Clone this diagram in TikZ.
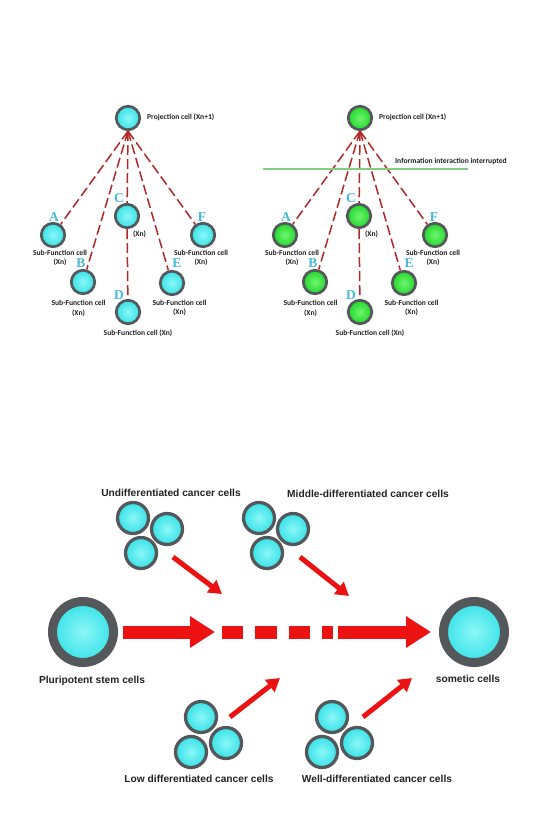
\documentclass[tikz,border=0pt]{standalone}
\usepackage{fontspec}
\setsansfont{Liberation Sans}
\newfontfamily\calfont{Carlito}
\newfontfamily\letterfont{Liberation Serif}
\usetikzlibrary{arrows.meta}
\definecolor{cellhi}{RGB}{140,247,247}
\definecolor{celllo}{RGB}{55,226,232}
\definecolor{greenhi}{RGB}{110,245,110}
\definecolor{greenlo}{RGB}{35,215,45}
\definecolor{ringgray}{RGB}{85,88,90}
\definecolor{linkred}{RGB}{176,40,40}
\definecolor{arrowred}{RGB}{236,18,18}
\definecolor{lettercyan}{RGB}{70,185,215}
\definecolor{cutgreen}{RGB}{130,205,130}
\definecolor{textgray}{RGB}{35,35,35}

\newcommand\celltree[3]{%
  \begin{scope}[xshift=#2]
    \node[cell,#3] (#1P) at (128,118) {};
    \node[toptext,anchor=west] (#1Pt) at (147,117) {Projection cell (Xn+1)};
    \foreach \n/\x/\y in {A/53/235,B/83/282,C/127/216,D/128/312,E/172/283,F/203/235}{
      \node[cell,#3] (#1\n) at (\x,\y) {};
    }
    \foreach \n/\x/\y in {A/54/217,B/81/263,C/119/198,D/119/295,E/177/263,F/202/217}{
      \node[letter] (#1\n-l) at (\x,\y) {\n};
    }
    \node[toptext] (#1At) at (60,258) {Sub-Function cell\\(Xn)};
    \node[toptext] (#1Bt) at (78.5,308.5) {Sub-Function cell\\[1pt](Xn)};
    \node[toptext] (#1Ct) at (139.5,234) {(Xn)};
    \node[toptext] (#1Dt) at (138,333) {Sub-Function cell (Xn)};
    \node[toptext] (#1Et) at (179.5,307.5) {Sub-Function cell\\[-0.5pt](Xn)};
    \node[toptext] (#1Ft) at (201,258) {Sub-Function cell\\(Xn)};
    \foreach \n in {A,B,C,E,F}{
      \draw[link] (#1P.south) -- (#1\n);
    }
    \draw[link] (#1C) -- (#1D);
  \end{scope}
}

\begin{document}
\begin{tikzpicture}[
  x=1pt, y=-1pt,
  cell/.style={circle, minimum size=23.5pt, inner sep=0pt, line width=2.7pt, draw=ringgray},
  cyancell/.style={shade, inner color=cellhi, outer color=celllo},
  greencell/.style={shade, inner color=greenhi, outer color=greenlo},
  smallcell/.style={cell, cyancell, minimum size=31pt, line width=3.3pt},
  bigcell/.style={cell, cyancell, minimum size=61pt, line width=9pt},
  link/.style={draw=linkred, line width=1.5pt, dash pattern=on 10pt off 4pt},
  cut/.style={draw=cutgreen, line width=1.2pt},
  toptext/.style={font=\calfont\bfseries\fontsize{7.6}{9.5}\selectfont, text=textgray, align=center, inner sep=0pt},
  bottext/.style={font=\sffamily\bfseries\fontsize{10.2}{12}\selectfont, text=textgray, inner sep=0pt},
  letter/.style={font=\letterfont\bfseries\fontsize{13.5}{13.5}\selectfont, text=lettercyan, inner sep=0pt},
  fatarrow/.style={draw=arrowred, line width=13pt, -{Triangle[width=30pt,length=25pt]}},
  dashbar/.style={draw=arrowred, line width=13pt, dash pattern=on 21pt off 12pt on 22pt off 12pt on 21pt off 12pt on 11pt off 20pt},
  thinarrow/.style={draw=arrowred, line width=5pt, -{Triangle[width=15pt,length=13pt]}}
]
  \useasboundingbox[fill=white] (0,0) rectangle (544,831);

  \celltree{L}{0pt}{cyancell}
  \celltree{R}{232pt}{greencell}

  \coordinate (cutL) at (263,169);
  \coordinate (cutR) at (468,169);
  \draw[cut] (cutL) -- (cutR);
  \node[toptext,anchor=west] (cuttext) at (395,161) {Information interaction interrupted};

  \foreach \n/\x/\y in {U1/133/518,U2/167/529,U3/141/553,M1/259/518,M2/293/529,M3/267/553,
                        L1/201/717,L2/191/752,L3/226/743,W1/332/717,W2/322/752,W3/357/743}{
    \node[smallcell] (\n) at (\x,\y) {};
  }
  \node[bigcell] (stem) at (83,632) {};
  \node[bigcell] (som) at (474,632) {};

  \node[bottext] (undiff) at (171,493) {Undifferentiated cancer cells};
  \node[bottext] (middle) at (368,494) {Middle-differentiated cancer cells};
  \node[bottext] (low) at (199,779) {Low differentiated cancer cells};
  \node[bottext] (well) at (377,779) {Well-differentiated cancer cells};
  \node[bottext] (stemt) at (92,681) {Pluripotent stem cells};
  \node[bottext] (somt) at (468,679) {sometic cells};

  \coordinate (gapL) at (215,632);
  \coordinate (dashL) at (222,632);
  \coordinate (dashR) at (333,632);
  \coordinate (gapR) at (338,632);
  \draw[fatarrow, shorten <=4.5pt] (stem) -- (gapL);
  \draw[dashbar] (dashL) -- (dashR);
  \draw[fatarrow, shorten >=8pt] (gapR) -- (som);

  \coordinate (a1s) at (173,557);
  \coordinate (a1e) at (222,594);
  \coordinate (a2s) at (300,557);
  \coordinate (a2e) at (349,596);
  \coordinate (a3s) at (230,717);
  \coordinate (a3e) at (280,678);
  \coordinate (a4s) at (363,717);
  \coordinate (a4e) at (412,678);
  \foreach \i in {1,...,4}{
    \draw[thinarrow] (a\i s) -- (a\i e);
  }
\end{tikzpicture}
\end{document}
